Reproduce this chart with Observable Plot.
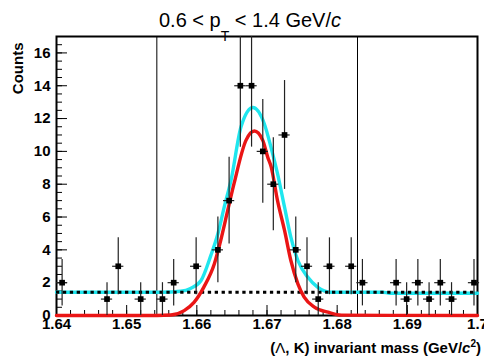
<!DOCTYPE html>
<html>
<head>
<meta charset="utf-8">
<script src="https://cdn.jsdelivr.net/npm/d3@7"></script>
<script src="https://cdn.jsdelivr.net/npm/@observablehq/plot@0.6"></script>
<style>
  html, body { margin: 0; padding: 0; background: #fff; }
  #chart svg { display: block; font-family: "Liberation Sans", Arial, Helvetica, sans-serif; }
</style>
</head>
<body>
<div id="chart"></div>
<script>
// Histogram bin centres (GeV/c^2) and entries
const mass = [1.6408, 1.6472, 1.6488, 1.6520, 1.6551, 1.6567, 1.6599, 1.6630, 1.6646,
              1.6662, 1.6678, 1.6694, 1.6709, 1.6725, 1.6741, 1.6757, 1.6773, 1.6789,
              1.6820, 1.6836, 1.6884, 1.6899, 1.6915, 1.6931, 1.6947, 1.6963, 1.6995];
const counts = [2, 1, 3, 1, 1, 2, 3, 4, 7,
                14, 14, 10, 8, 11, 4, 3, 1, 3,
                3, 2, 2, 1, 2, 1, 2, 1, 2];
const binHalfWidth = 0.0008;

// Total fit (signal + background)
const fitMass = [1.6400, 1.6550, 1.6577, 1.6591, 1.6606, 1.6620, 1.6630, 1.6639, 1.6649,
                 1.6663, 1.6680, 1.6696, 1.6706, 1.6715, 1.6725, 1.6734, 1.6744, 1.6758,
                 1.6772, 1.6791, 1.6865, 1.6875, 1.7000];
const fitTotal = [1.42, 1.42, 1.48, 1.65, 2.13, 3.66, 4.98, 6.6, 8.3,
                  11.5, 12.67, 11.7, 10.2, 8.64, 6.6, 4.77, 3.35, 2.34,
                  1.73, 1.42, 1.42, 1.36, 1.36];

// Signal component
const sigMass = [1.6400, 1.6543, 1.6563, 1.6582, 1.6596, 1.6610, 1.6625, 1.6634, 1.6644,
                 1.6653, 1.6670, 1.6682, 1.6694, 1.6701, 1.6706, 1.6715, 1.6725, 1.6734,
                 1.6744, 1.6753, 1.6768, 1.6787, 1.6806, 1.7000];
const sigValue = [0, 0, 0.03, 0.3, 0.8, 1.73, 3.15, 4.57, 6.4,
                  8.03, 10.67, 11.24, 10.67, 9.65, 9.04, 7.0, 5.18, 3.35,
                  1.93, 1.12, 0.5, 0.2, 0.02, 0];

// Background level and signal-window limits
const bgLevel = 1.42;
const windowEdges = [1.6543, 1.6829];

// Axis ticks
const xMajor = [1.64, 1.65, 1.66, 1.67, 1.68, 1.69, 1.70];
const xMinor = d3.range(0, 31).map(i => 1.64 + i * 0.002);
const yMajor = [0, 2, 4, 6, 8, 10, 12, 14, 16];
const yMinor = d3.range(0, 35).map(i => i * 0.5);

const points = mass.map((m, i) => ({mass: m, count: counts[i],
  lo: counts[i] - Math.sqrt(counts[i]), hi: counts[i] + Math.sqrt(counts[i])}));
const totalCurve = fitMass.map((m, i) => ({mass: m, v: fitTotal[i]}));
const sigCurve = sigMass.map((m, i) => ({mass: m, v: sigValue[i]}));

const W = 484, H = 358;
const mL = 56, mR = 7, mT = 36, mB = 43;
const frameW = W - mL - mR, frameH = H - mT - mB;

const chart = Plot.plot({
  width: W,
  height: H,
  marginLeft: mL,
  marginRight: mR,
  marginTop: mT,
  marginBottom: mB,
  style: {background: "#fff", color: "#000", fontFamily: "Liberation Sans, Arial, sans-serif"},
  x: {domain: [1.64, 1.70]},
  y: {domain: [0, 17]},
  marks: [
    // signal-window limits
    Plot.ruleX(windowEdges, {x: d => d, stroke: "#000", strokeWidth: 1}),
    // inward ticks
    Plot.tickX(xMinor, {x: d => d, insetTop: frameH - 5, stroke: "#000", strokeWidth: 1}),
    Plot.tickX(xMajor, {x: d => d, insetTop: frameH - 10, stroke: "#000", strokeWidth: 1}),
    Plot.tickY(yMinor.filter(v => v <= 17), {y: d => d, insetRight: frameW - 6, stroke: "#000", strokeWidth: 1}),
    Plot.tickY(yMajor, {y: d => d, insetRight: frameW - 11, stroke: "#000", strokeWidth: 1}),
    Plot.axisX({ticks: xMajor, tickSize: 0, tickPadding: 3, label: null,
      tickFormat: d => d3.format(".2f")(d).replace(/0$/, ""),
      fontSize: 15, fontWeight: "bold"}),
    Plot.axisY({ticks: yMajor, tickSize: 0, tickPadding: 6, label: null,
      tickFormat: d => String(d), fontSize: 15, fontWeight: "bold"}),
    Plot.frame({stroke: "#000", strokeWidth: 2}),
    // fit curves
    Plot.line(totalCurve, {x: "mass", y: "v", stroke: "#1fe6ee", strokeWidth: 3.4, curve: "monotone-x"}),
    Plot.ruleY([bgLevel], {y: d => d, stroke: "#000", strokeWidth: 3, strokeDasharray: "3.3,3.6"}),
    Plot.line(sigCurve, {x: "mass", y: "v", stroke: "#ea1515", strokeWidth: 3.4, curve: "monotone-x"}),
    // data with Poisson errors
    Plot.ruleX(points, {x: "mass", y1: "lo", y2: "hi", stroke: "#222", strokeWidth: 1.2, clip: true}),
    Plot.ruleY(points, {y: "count", x1: d => d.mass - binHalfWidth, x2: d => d.mass + binHalfWidth,
      stroke: "#222", strokeWidth: 1.2}),
    Plot.dot(points, {x: "mass", y: "count", symbol: "square", r: 3.2, fill: "#000", stroke: null}),
    // y-axis title
    Plot.text(["Counts"], {frameAnchor: "top-left", dx: -44, dy: 6, rotate: -90,
      textAnchor: "end", fontSize: 15, fontWeight: "bold"})
  ]
});

document.getElementById("chart").appendChild(chart);

const svg = d3.select(chart);
// title with subscript
const title = svg.append("text")
  .attr("x", 250).attr("y", 27)
  .attr("text-anchor", "middle")
  .attr("font-size", 20)
  .attr("fill", "#000");
title.append("tspan").text("0.6 < p");
title.append("tspan").attr("font-size", 14).attr("dy", 13.5).text("T");
title.append("tspan").attr("dy", -13.5).text(" < 1.4 GeV/");
title.append("tspan").attr("font-style", "italic").text("c");

// x-axis title
const xt = svg.append("text")
  .attr("x", 481).attr("y", 353)
  .attr("text-anchor", "end")
  .attr("font-size", 15)
  .attr("font-weight", "bold")
  .attr("fill", "#000");
xt.append("tspan").text("(");
xt.append("tspan").attr("font-weight", "normal").text("\u039B");
xt.append("tspan").text(", K) invariant mass (GeV/");
xt.append("tspan").attr("font-style", "italic").text("c");
xt.append("tspan").attr("font-size", 10).attr("dy", -6).text("2");
xt.append("tspan").attr("dy", 6).text(")");
</script>
</body>
</html>
